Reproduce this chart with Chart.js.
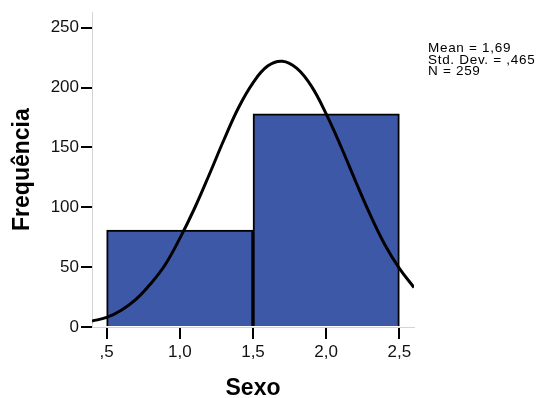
<!DOCTYPE html>
<html>
<head>
<meta charset="utf-8">
<script src="https://cdn.jsdelivr.net/npm/chart.js@4"></script>
<style>
  body { margin: 0; background: #fff; }
  canvas { display: block; }
</style>
</head>
<body>
<canvas id="chart" width="545" height="398"></canvas>
<script>
// histogram bins (centre of each bin) and counts
const binCenters = [1, 2];
const counts = [81, 178];

// normal curve
const curveX = [0.4, 0.5, 0.6, 0.7, 0.8, 0.9, 1.0, 1.1, 1.2, 1.3, 1.4, 1.5,
                1.6, 1.7, 1.8, 1.9, 2.0, 2.1, 2.2, 2.3, 2.4, 2.5, 2.6];
const curveY = [5, 8, 14, 23, 36, 52, 74, 99, 127, 156, 183, 204,
                218, 222, 216, 201, 178, 151, 122, 94, 69, 49, 33];

const xTickValues = [0.5, 1, 1.5, 2, 2.5];
const xTickLabels = [',5', '1,0', '1,5', '2,0', '2,5'];
const yTickValues = [0, 50, 100, 150, 200, 250];

const statsLines = ['Mean = 1,69', 'Std. Dev. = ,465', 'N = 259'];

const statsBox = {
    id: 'statsBox',
    afterDraw(chart) {
        const ctx = chart.ctx;
        ctx.save();
        ctx.font = '13.5px "Liberation Sans", Arial, sans-serif';
        ctx.fillStyle = '#000';
        ctx.textBaseline = 'alphabetic';
        ctx.letterSpacing = '0.7px';
        statsLines.forEach((t, i) => ctx.fillText(t, 428, 52 + i * 11.5));
        ctx.restore();
    }
};

const tickFont = { family: '"Liberation Sans", Arial, sans-serif', size: 17 };
const titleFont = { family: '"Liberation Sans", Arial, sans-serif', size: 23, weight: 'bold', lineHeight: 1 };

new Chart(document.getElementById('chart'), {
    type: 'bar',
    data: {
        datasets: [
            {
                type: 'line',
                order: 0,
                data: curveX.map((x, i) => ({ x: x, y: curveY[i] })),
                borderColor: '#000',
                borderWidth: 3,
                pointRadius: 0,
                tension: 0.4,
                fill: false
            },
            {
                type: 'bar',
                order: 1,
                data: binCenters.map((x, i) => ({ x: x, y: counts[i] })),
                backgroundColor: '#3e58a8',
                borderColor: '#000',
                borderWidth: 2,
                barThickness: 'flex',
                barPercentage: 1,
                categoryPercentage: 1
            }
        ]
    },
    options: {
        responsive: false,
        animation: false,
        devicePixelRatio: 1,
        layout: { padding: { left: 0, right: 131, top: 10, bottom: 0 } },
        plugins: {
            legend: { display: false },
            tooltip: { enabled: false }
        },
        scales: {
            x: {
                type: 'linear',
                min: 0.4,
                max: 2.6,
                offset: false,
                afterBuildTicks: s => { s.ticks = xTickValues.map(v => ({ value: v })); },
                afterFit: s => { s.height = 71; },
                grid: { offset: false, drawOnChartArea: false, color: '#000', lineWidth: 2, tickLength: 12 },
                border: { color: '#d4d4d4', width: 1 },
                ticks: {
                    font: tickFont,
                    color: '#111',
                    padding: 3,
                    maxRotation: 0,
                    callback: (v) => xTickLabels[xTickValues.indexOf(v)]
                },
                title: { display: true, text: 'Sexo', font: { ...titleFont, lineHeight: 0.7 }, color: '#000', padding: { top: 0, bottom: 1 } }
            },
            y: {
                min: 0,
                max: 263,
                afterBuildTicks: s => { s.ticks = yTickValues.map(v => ({ value: v })); },
                afterFit: s => { s.width = 92; },
                grid: { drawOnChartArea: false, color: '#000', lineWidth: 2, tickLength: 11 },
                border: { color: '#d4d4d4', width: 1 },
                ticks: { font: tickFont, color: '#111', padding: 2 },
                title: { display: true, text: 'Frequência', font: titleFont, color: '#000', padding: { top: 11, bottom: 0 } }
            }
        }
    },
    plugins: [statsBox]
});
</script>
</body>
</html>
